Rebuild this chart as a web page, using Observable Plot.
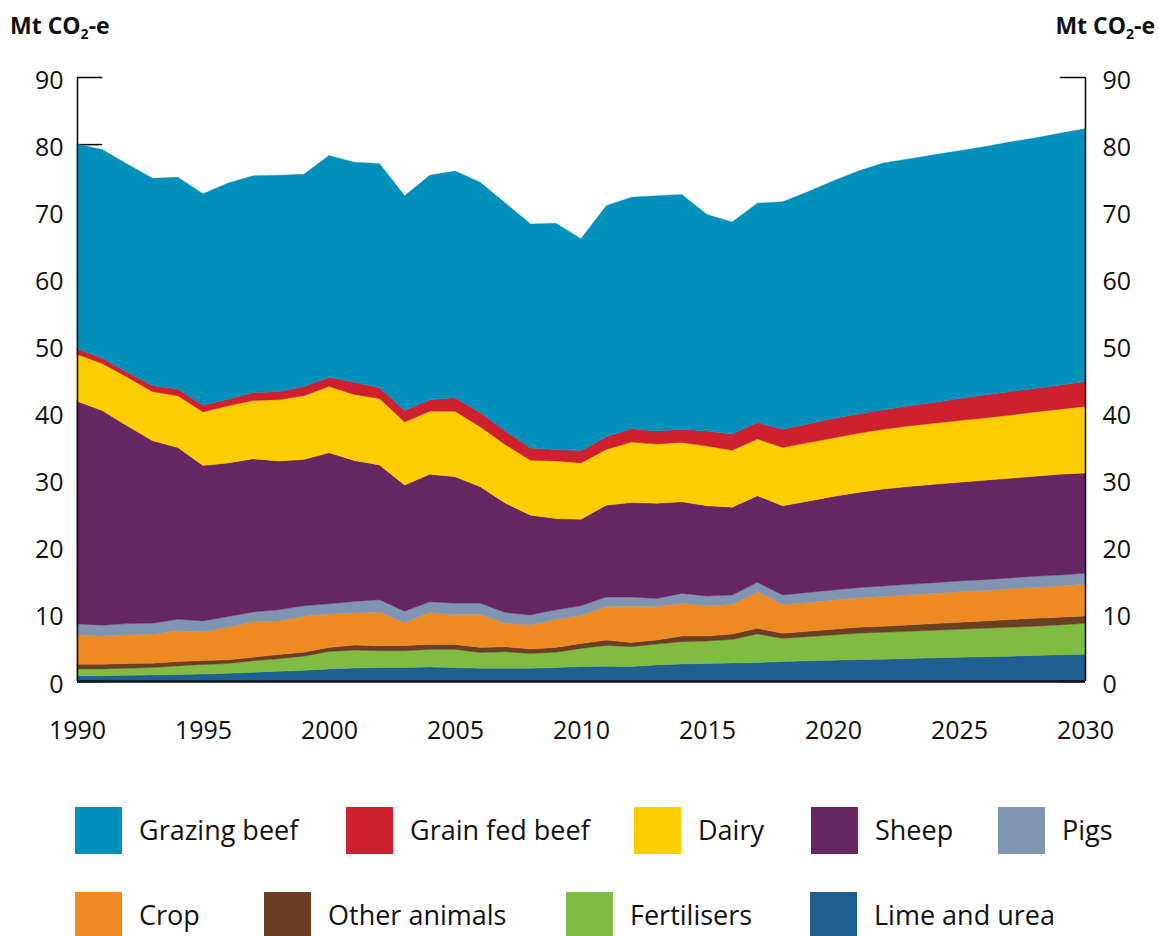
<!DOCTYPE html>
<html><head><meta charset="utf-8">
<script src="https://cdn.jsdelivr.net/npm/d3@7"></script>
<script src="https://cdn.jsdelivr.net/npm/@observablehq/plot@0.6"></script>
<style>
body{margin:0;background:#fff;font-family:"Open Sans",sans-serif;}
#wrap{position:relative;width:1159px;height:936px;overflow:hidden;background:#fff;}
.unit{position:absolute;top:9px;font-weight:700;font-size:23px;color:#111;white-space:nowrap;}
.unit sub{font-size:14px;vertical-align:-5px;line-height:0;}
#chart{position:absolute;left:0;top:0;}
.sw{position:absolute;width:47px;height:47px;}
.lab{position:absolute;font-size:27px;line-height:47px;color:#111;white-space:nowrap;}
</style></head>
<body><div id="wrap">
<div id="chart"></div>
<div class="unit" style="left:10px">Mt CO<sub>2</sub>-e</div>
<div class="unit" style="right:4px">Mt CO<sub>2</sub>-e</div>
<div id="legend"></div>
</div>
<script>
const years = [1990,1991,1992,1993,1994,1995,1996,1997,1998,1999,2000,2001,2002,2003,2004,2005,2006,2007,2008,2009,2010,2011,2012,2013,2014,2015,2016,2017,2018,2019,2020,2021,2022,2023,2024,2025,2026,2027,2028,2029,2030];

const limeUrea = [0.75,0.8,0.85,0.9,0.95,1.05,1.15,1.3,1.45,1.6,1.8, 1.95,2.0,2.0,2.1,2.0,1.9,1.9,1.9,2.0,2.15, 2.2,2.15,2.4,2.55,2.6,2.7,2.75,2.9,3.0,3.1, 3.2,3.25,3.35,3.45,3.55,3.6,3.7,3.8,3.9,4.0];
const fertilisers = [1.05,1.0,1.05,1.1,1.3,1.4,1.45,1.7,1.85,2.1,2.6, 2.65,2.5,2.5,2.6,2.7,2.35,2.45,2.2,2.3,2.7, 3.1,2.95,3.1,3.3,3.35,3.5,4.25,3.45,3.6,3.75, 3.9,4.0,4.05,4.1,4.15,4.25,4.3,4.35,4.45,4.6];
const otherAnimals = [0.7,0.7,0.7,0.65,0.65,0.6,0.55,0.55,0.65,0.6,0.6, 0.75,0.75,0.8,0.75,0.75,0.75,0.75,0.65,0.7,0.75, 0.8,0.65,0.6,0.85,0.75,0.8,0.85,0.75,0.8,0.85, 0.9,0.9,0.95,1.0,1.05,1.1,1.15,1.2,1.15,1.1];
const crop = [4.35,4.2,4.3,4.3,4.6,4.3,4.85,5.3,5.0,5.35,5.0, 4.8,5.05,3.4,4.75,4.45,4.9,3.5,3.6,4.2,4.15, 5.0,5.4,5.0,4.9,4.5,4.4,5.45,4.3,4.3,4.35, 4.4,4.45,4.5,4.5,4.55,4.55,4.6,4.6,4.7,4.7];
const pigs = [1.65,1.6,1.65,1.65,1.7,1.6,1.6,1.45,1.65,1.55,1.5, 1.7,1.8,1.7,1.6,1.7,1.7,1.6,1.5,1.4,1.45, 1.4,1.35,1.2,1.45,1.45,1.4,1.4,1.4,1.5,1.5, 1.5,1.55,1.55,1.6,1.6,1.6,1.6,1.65,1.6,1.65];
const sheep = [33.2,32.0,29.45,27.2,25.6,23.15,22.9,22.8,22.2,21.8,22.5, 21.0,20.1,18.8,19.0,18.85,17.35,16.3,14.85,13.6,12.9, 13.7,14.1,14.2,13.65,13.45,13.1,12.9,13.3,13.6,13.95, 14.2,14.45,14.6,14.65,14.7,14.8,14.85,14.9,15.0,14.95];
const dairy = [7.0,7.0,7.25,7.3,7.7,8.0,8.5,8.7,9.1,9.5,9.9, 9.85,9.9,9.4,9.4,9.75,8.95,8.7,8.2,8.6,8.4, 8.3,9.0,8.8,8.85,8.9,8.5,8.45,8.7,8.7,8.7, 8.8,8.9,9.0,9.1,9.2,9.3,9.4,9.6,9.7,9.9];
const grainFedBeef = [0.8,0.8,0.75,0.9,1.0,1.0,1.0,1.2,1.2,1.4,1.35, 1.8,1.6,1.7,1.7,2.0,2.1,2.05,1.8,1.7,1.8, 1.9,2.0,1.95,1.95,2.25,2.4,2.45,2.7,2.8,2.9, 2.9,2.9,3.0,3.1,3.3,3.4,3.5,3.5,3.6,3.7];
const grazingBeef = [30.5,31.1,31.0,30.9,31.55,31.5,32.2,32.3,32.25,31.6,33.05, 32.8,33.4,32.0,33.45,33.8,34.3,33.95,33.4,33.7,31.6, 34.4,34.5,35.05,35.0,32.25,31.6,32.7,33.9,34.6,35.4, 36.2,36.8,36.8,36.9,36.9,37.0,37.2,37.3,37.5,37.7];

// stacking order, bottom to top
const seriesNames = ["Lime and urea","Fertilisers","Other animals","Crop","Pigs","Sheep","Dairy","Grain fed beef","Grazing beef"];
const seriesValues = [limeUrea, fertilisers, otherAnimals, crop, pigs, sheep, dairy, grainFedBeef, grazingBeef];
const seriesColors = ["#1f5f91","#80bc42","#6b3f23","#ef8a22","#7f95b1","#662563","#fecd00","#cf202f","#0090bc"];

const yTicks = [0,10,20,30,40,50,60,70,80,90];
const xTicks = [1990,1995,2000,2005,2010,2015,2020,2025,2030];

// legend rows as in the original
const legendRow1 = ["Grazing beef","Grain fed beef","Dairy","Sheep","Pigs"];
const legendRow2 = ["Crop","Other animals","Fertilisers","Lime and urea"];

const tidy = [];
seriesNames.forEach((name, si) => {
  seriesValues[si].forEach((v, i) => tidy.push({year: years[i], series: name, value: v}));
});

const chart = Plot.plot({
  width: 1159, height: 751,
  marginLeft: 77, marginRight: 74, marginTop: 77, marginBottom: 70,
  style: {fontFamily: "Open Sans", fontSize: "25px", color: "#111", background: "white"},
  x: {domain: [1990, 2030], label: null},
  y: {domain: [0, 90], label: null},
  color: {domain: seriesNames, range: seriesColors},
  marks: [
    Plot.ruleY(yTicks, {x1: 1990, x2: 1991, stroke: "black", strokeWidth: 1.5}),
    Plot.ruleY(yTicks, {x1: 2029, x2: 2030, stroke: "black", strokeWidth: 1.5}),
    Plot.areaY(tidy, {x: "year", y: "value", z: "series", fill: "series", stroke: "series", strokeWidth: 0.4, order: seriesNames}),
    Plot.ruleX([1990, 2030], {y1: 0, y2: 90, stroke: "black", strokeWidth: 1.5}),
    Plot.ruleY([0], {stroke: "#111", strokeWidth: 2.5}),
    Plot.axisX(xTicks, {tickSize: 0, tickPadding: 40, tickFormat: "d", fontSize: 25, label: null}),
    Plot.axisY(yTicks, {anchor: "left", tickSize: 0, tickPadding: 14, dy: 3, fontSize: 25, label: null}),
    Plot.axisY(yTicks, {anchor: "right", tickSize: 0, tickPadding: 17, dy: 3, fontSize: 25, label: null})
  ]
});
document.getElementById("chart").appendChild(chart);

// legend
const colorOf = name => seriesColors[seriesNames.indexOf(name)];
const legend = document.getElementById("legend");
const row1X = [75, 346, 634, 811, 998];
const row2X = [75, 264, 566, 810];
function addItems(names, xs, top) {
  names.forEach((name, i) => {
    const sw = document.createElement("div");
    sw.className = "sw";
    sw.style.left = xs[i] + "px";
    sw.style.top = top + "px";
    sw.style.background = colorOf(name);
    legend.appendChild(sw);
    const lb = document.createElement("div");
    lb.className = "lab";
    lb.style.left = (xs[i] + 64) + "px";
    lb.style.top = (top - 1) + "px";
    lb.textContent = name;
    legend.appendChild(lb);
  });
}
addItems(legendRow1, row1X, 807);
addItems(legendRow2, row2X, 892);
</script>
</body></html>
